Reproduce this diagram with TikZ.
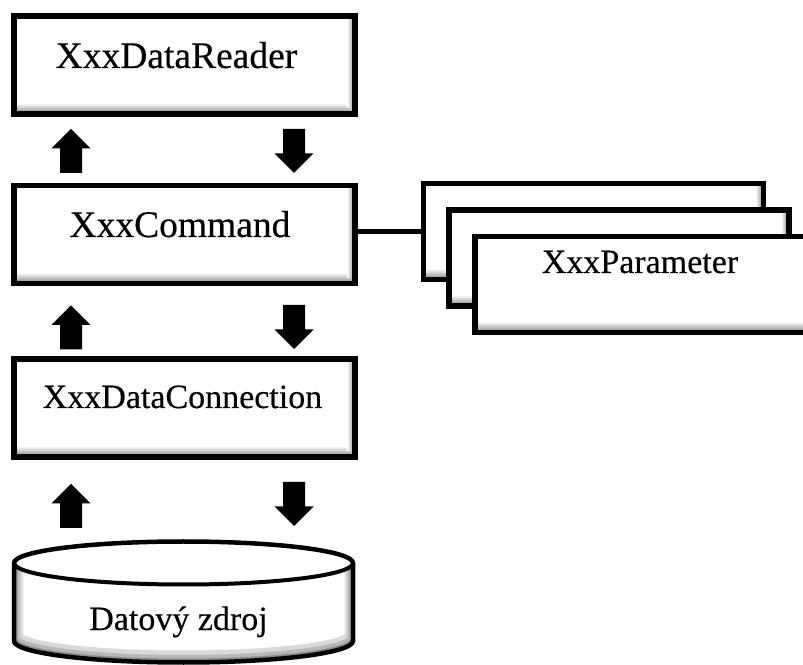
\documentclass[tikz,border=0pt]{standalone}
\usepackage{fontspec}
\setmainfont{Liberation Serif}[FakeBold=0.35]
% soft inner shading along the lower and right edges of a box, then its frame
\newcommand\shadedframe[1]{%
  \shade[top color=white, bottom color=black!50]
    ([yshift=11pt]#1.south west) rectangle (#1.south east);
  \shade[left color=white, right color=black!50]
    ([xshift=-8pt,yshift=-2pt]#1.north east) rectangle ([yshift=6pt]#1.south east);
  \draw[frame] (#1.south west) rectangle (#1.north east);}
\begin{document}
\begin{tikzpicture}[x=1pt,y=1pt,
  frame/.style={line width=5.5pt},
  box/.style={fill=white, rectangle, outer sep=0pt, inner sep=0pt,
    minimum width=341pt, minimum height=98pt},
  parbox/.style={box, minimum width=340pt, minimum height=96pt},
  bigtext/.style={font=\fontsize{37.5}{40}\selectfont, inner sep=0pt, anchor=base},
  smalltext/.style={font=\fontsize{34}{38}\selectfont, inner sep=0pt, anchor=base},
  link/.style={line width=4.5pt},
  uparr/.pic={\fill (-11,-22) -- (-11,2.5) -- (-19.5,2.5) -- (0,22)
               -- (19.5,2.5) -- (11,2.5) -- (11,-22) -- cycle;},
  downarr/.pic={\fill (-11,22) -- (-11,-2.5) -- (-19.5,-2.5) -- (0,-22)
               -- (19.5,-2.5) -- (11,-2.5) -- (11,22) -- cycle;}
]
\useasboundingbox (0,0) rectangle (803,664);
\clip (0,0) rectangle (803,664);

% main stack of objects
\node[box] (reader) at (184.5,599) {};
\shadedframe{reader}
\node[bigtext] (readertxt) at (176.5,596) {XxxDataReader};

\node[box] (command) at (184.5,429.5) {};
\shadedframe{command}
\node[bigtext] (commandtxt) at (180,427) {XxxCommand};

\node[box] (conn) at (184.5,256) {};
\shadedframe{conn}
\node[smalltext] (conntxt) at (182.5,256) {XxxDataConnection};

% stacked parameter collection
\node[parbox] (par1) at (593.5,432.5) {};
\shadedframe{par1}
\draw[link] (par1.west) -- (par1.west -| command.east);
\node[parbox] (par2) at (619,406) {};
\shadedframe{par2}
\node[parbox] (par3) at (645,379.5) {};
\shadedframe{par3}
\node[smalltext] (partxt) at (640,391) {XxxParameter};

% data source cylinder
\begin{scope}
  \clip (14,101) -- (14,23) arc[start angle=180,end angle=360,x radius=169.5,y radius=21.5]
        -- (353,101) arc[start angle=0,end angle=180,x radius=169.5,y radius=21.5] -- cycle;
  \fill[white] (0,0) rectangle (370,130);
  \shade[left color=black!45, right color=white] (14,0) rectangle (24,125);
  \shade[left color=white, right color=black!55] (343,0) rectangle (353,125);
  \draw[black!15, line width=24pt] (14,23) arc[start angle=180,end angle=360,x radius=169.5,y radius=21.5];
  \draw[black!28, line width=15pt] (14,23) arc[start angle=180,end angle=360,x radius=169.5,y radius=21.5];
  \draw[black!45, line width=8pt] (14,23) arc[start angle=180,end angle=360,x radius=169.5,y radius=21.5];
  \fill[white] (183.5,101) ellipse[x radius=169.5, y radius=21.5];
\end{scope}
\draw[line width=4.5pt] (14,101) -- (14,23) arc[start angle=180,end angle=360,x radius=169.5,y radius=21.5]
        -- (353,101) arc[start angle=0,end angle=180,x radius=169.5,y radius=21.5] -- cycle;
\draw[line width=4pt] (14,101) arc[start angle=180,end angle=360,x radius=169.5,y radius=21.5];
\node[smalltext] (srctxt) at (178.5,34) {Datový zdroj};

% request / result flow between layers
\coordinate (u1) at (71,513);   \coordinate (d1) at (294,513);
\coordinate (u2) at (71,336.5); \coordinate (d2) at (294,337);
\coordinate (u3) at (71,158);   \coordinate (d3) at (294,160);
\pic at (u1) {uparr};  \pic at (d1) {downarr};
\pic at (u2) {uparr};  \pic at (d2) {downarr};
\pic at (u3) {uparr};  \pic at (d3) {downarr};
\end{tikzpicture}
\end{document}
